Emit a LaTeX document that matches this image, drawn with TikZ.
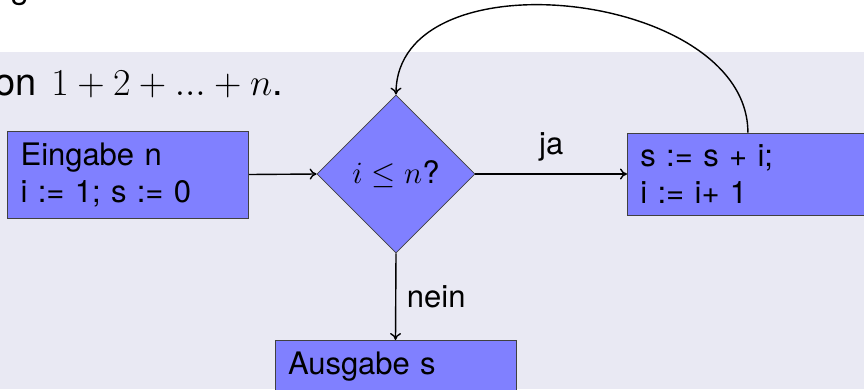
\RequirePackage{fix-cm}
\documentclass[tikz,border=0pt]{standalone}
\usepackage{fontspec}
\setsansfont{TeX Gyre Heros}
\usetikzlibrary{shapes.geometric,arrows.meta}
\definecolor{slidebg}{RGB}{233,233,243}
\definecolor{boxfill}{RGB}{128,128,255}
\definecolor{boxline}{RGB}{64,64,64}
\tikzset{
  big/.style={font=\sffamily\fontsize{31}{37}\selectfont},
  slidetext/.style={font=\sffamily\fontsize{38}{45}\selectfont, inner sep=2pt},
  stepbox/.style={big, draw=boxline, line width=0.8pt, fill=boxfill, rectangle,
    text width=215pt, inner xsep=13pt, inner ysep=11.5pt, align=left},
  decide/.style={big, draw=boxline, line width=0.8pt, fill=boxfill, diamond,
    minimum width=158pt, minimum height=158pt, inner sep=0pt},
  arr/.style={-{To[length=7pt,width=11pt]}, line width=1.4pt, black},
  lbl/.style={big, inner sep=2pt}
}
\begin{document}
\begin{tikzpicture}[x=1pt,y=-1pt]
  \useasboundingbox (0,0) rectangle (864,389);
  \begin{scope}
    \clip (0,0) rectangle (864,389);
    \fill[white] (0,0) rectangle (864,389);
    \fill[slidebg] (0,52) rectangle (864,389);
    \node[slidetext, font=\sffamily\fontsize{33}{40}\selectfont, anchor=base west] (head) at (8.5,-2) {g:};
    \node[slidetext, anchor=base east] (sum) at (285,95) {von\hspace{4pt} $1+2+...+n$.};
    \node[stepbox, anchor=east] (inp) at (249,174.5) {Eingabe n\\i := 1; s := 0};
    \node[decide] (dia) at (396,174) {$i\leq n$?};
    \node[stepbox, anchor=west] (upd) at (627,174) {s := s + i;\\i := i+ 1};
    \node[stepbox, anchor=north] (out) at (395.5,340) {Ausgabe s};
    \draw[arr] (inp.east) -- (dia.west);
    \draw[arr] (dia.east) -- node[lbl, midway, above=10.5pt] (ja) {ja} (upd.west);
    \draw[arr] (dia.south) -- node[lbl, midway, right=8.5pt] (nein) {nein} (out.north);
    \draw[arr] (upd.north) to[out=90, in=90, looseness=1.03] (dia.north);
  \end{scope}
\end{tikzpicture}
\end{document}
